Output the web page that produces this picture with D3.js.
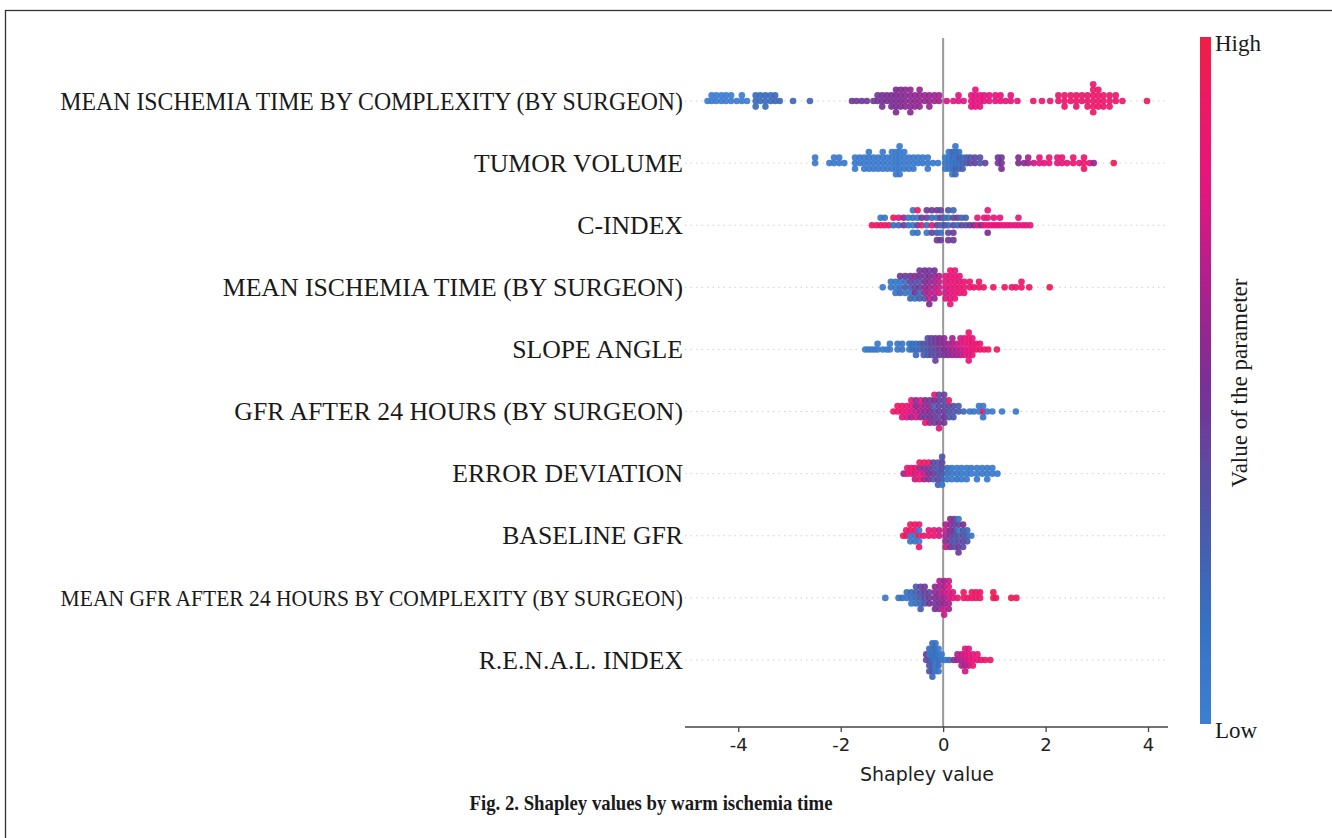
<!DOCTYPE html>
<html>
<head>
<meta charset="utf-8">
<script src="https://cdn.jsdelivr.net/npm/d3@7/dist/d3.min.js"></script>
<style>
  body { margin: 0; background: #fff; }
</style>
</head>
<body>
<svg id="chart" width="1332" height="838"></svg>
<script>
// feature names, top to bottom
const features = [
    "MEAN ISCHEMIA TIME BY COMPLEXITY (BY SURGEON)",
    "TUMOR VOLUME",
    "C-INDEX",
    "MEAN ISCHEMIA TIME (BY SURGEON)",
    "SLOPE ANGLE",
    "GFR AFTER 24 HOURS (BY SURGEON)",
    "ERROR DEVIATION",
    "BASELINE GFR",
    "MEAN GFR AFTER 24 HOURS BY COMPLEXITY (BY SURGEON)",
    "R.E.N.A.L. INDEX"
];

// each entry: [shapley value, [feature value (0 low .. 1 high) of every point at that value]]
const ischemiaByComplexity = [
    [-4.60, [0.02]], [-4.52, [0.02, 0.02]], [-4.43, [0.02, 0.02]], [-4.33, [0.02, 0.02]],
    [-4.24, [0.02, 0.02]], [-4.14, [0.02, 0.02]], [-4.03, [0.02]], [-3.93, [0.02, 0.02]], [-3.83, [0.02]],
    [-3.66, [0.18, 0.18, 0.18]], [-3.57, [0.18, 0.18]], [-3.47, [0.18, 0.18, 0.18]], [-3.37, [0.18, 0.18]],
    [-3.28, [0.2, 0.2]], [-3.19, [0.2]], [-2.93, [0.22]], [-2.60, [0.22]],
    [-1.78, [0.45]], [-1.69, [0.45]], [-1.59, [0.45]], [-1.49, [0.45]], [-1.36, [0.46]],
    [-1.28, [0.46, 0.46]], [-1.19, [0.48, 0.48, 0.48]], [-1.10, [0.5, 0.5]], [-1.01, [0.5, 0.5, 0.5]],
    [-0.92, [0.5, 0.5, 0.5, 0.5, 0.5]], [-0.83, [0.52, 0.52, 0.52, 0.52]], [-0.74, [0.54, 0.54, 0.54, 0.54]],
    [-0.64, [0.55, 0.55, 0.55, 0.55, 0.55]], [-0.55, [0.56, 0.56, 0.56]], [-0.46, [0.57, 0.57, 0.57, 0.57]],
    [-0.36, [0.58, 0.58]], [-0.27, [0.58, 0.58, 0.58]], [-0.17, [0.6, 0.6]], [-0.08, [0.62, 0.62]],
    [0.07, [0.74]], [0.20, [0.76]], [0.30, [0.76, 0.76]], [0.40, [0.76]],
    [0.55, [0.78, 0.78, 0.78]], [0.63, [0.78, 0.78, 0.78, 0.78]], [0.72, [0.78, 0.78, 0.78]],
    [0.80, [0.78, 0.78]], [0.90, [0.78, 0.78]], [1.02, [0.8, 0.8]], [1.12, [0.8, 0.8]], [1.22, [0.8]],
    [1.32, [0.8, 0.8]], [1.45, [0.8]], [1.76, [0.84]], [1.93, [0.84]], [2.09, [0.84]],
    [2.25, [0.87, 0.87]], [2.37, [0.87, 0.87, 0.87]], [2.49, [0.87, 0.87]], [2.60, [0.87, 0.87, 0.87]],
    [2.71, [0.88, 0.88]], [2.82, [0.88, 0.88, 0.88]], [2.93, [0.88, 0.88, 0.88, 0.88, 0.88, 0.88]],
    [3.03, [0.88, 0.88, 0.88, 0.88]], [3.13, [0.88, 0.88, 0.88]], [3.25, [0.88, 0.88, 0.88]],
    [3.37, [0.88, 0.88]], [3.50, [0.88]], [3.98, [0.95]]
];

const tumorVolume = [
    [-2.50, [0.05, 0.05]], [-2.22, [0.05]], [-2.13, [0.05, 0.05]], [-2.03, [0.05, 0.05]], [-1.93, [0.05]],
    [-1.72, [0.05, 0.05, 0.05]], [-1.63, [0.05, 0.05]], [-1.54, [0.05, 0.05, 0.05]],
    [-1.45, [0.05, 0.05, 0.05, 0.05]], [-1.36, [0.05, 0.05, 0.05]], [-1.27, [0.05, 0.05, 0.05]],
    [-1.18, [0.05, 0.05, 0.05, 0.05]], [-1.09, [0.05, 0.05, 0.05]], [-1.00, [0.05, 0.05, 0.05, 0.05]],
    [-0.92, [0.05, 0.05, 0.05, 0.05, 0.05]], [-0.85, [0.05, 0.05, 0.05, 0.05, 0.05, 0.05]],
    [-0.76, [0.05, 0.05, 0.05, 0.05]], [-0.67, [0.05, 0.05, 0.05]], [-0.58, [0.05, 0.05, 0.05]],
    [-0.49, [0.05, 0.05]], [-0.40, [0.05, 0.05]], [-0.30, [0.05, 0.05, 0.05]], [-0.20, [0.05]], [-0.10, [0.05]],
    [0.04, [0.08, 0.08, 0.08]], [0.11, [0.1, 0.08, 0.1, 0.08]], [0.18, [0.12, 0.15, 0.12, 0.2, 0.12]],
    [0.24, [0.15, 0.12, 0.25, 0.15, 0.2, 0.12]], [0.31, [0.15, 0.25, 0.2, 0.15]], [0.38, [0.25, 0.2, 0.25]],
    [0.46, [0.3, 0.25]], [0.53, [0.35, 0.3]], [0.62, [0.42, 0.38]], [0.72, [0.3, 0.35]], [0.82, [0.4]],
    [1.07, [0.45, 0.45]], [1.14, [0.48, 0.45, 0.5]],
    [1.47, [0.5, 0.52]], [1.58, [0.55]], [1.66, [0.6, 0.62]], [1.77, [0.7]],
    [1.88, [0.8, 0.82]], [1.97, [0.78]], [2.07, [0.82, 0.85]], [2.23, [0.75, 0.78]], [2.32, [0.86, 0.84]],
    [2.42, [0.8]], [2.54, [0.86, 0.84]], [2.66, [0.8]], [2.75, [0.9, 0.88, 0.9]], [2.86, [0.8]],
    [2.94, [0.55]], [3.33, [0.95]]
];

const cIndex = [
    [-1.39, [0.92]], [-1.30, [0.92]], [-1.22, [0.9, 0.1]], [-1.14, [0.9, 0.1]], [-1.06, [0.92]],
    [-0.97, [0.15, 0.92]], [-0.87, [0.2, 0.8]], [-0.77, [0.45, 0.6]], [-0.68, [0.15, 0.1]],
    [-0.59, [0.1, 0.15, 0.1, 0.1]], [-0.50, [0.4, 0.1, 0.15, 0.92]], [-0.42, [0.9, 0.45]],
    [-0.32, [0.15, 0.4, 0.1, 0.45]], [-0.22, [0.85, 0.2, 0.4, 0.45]], [-0.12, [0.45, 0.15, 0.3, 0.45, 0.45]],
    [-0.05, [0.2, 0.45, 0.15, 0.4, 0.45]], [0.03, [0.4, 0.2]], [0.10, [0.2, 0.15, 0.4, 0.3, 0.45]],
    [0.20, [0.4, 0.4, 0.45, 0.2, 0.45]], [0.28, [0.2, 0.4]], [0.36, [0.4, 0.2]], [0.44, [0.35, 0.25]],
    [0.52, [0.45]], [0.60, [0.5]], [0.67, [0.8, 0.8]], [0.74, [0.5]], [0.80, [0.8, 0.8]],
    [0.87, [0.8, 0.8, 0.5, 0.8]], [0.93, [0.8]], [0.99, [0.8, 0.8]], [1.05, [0.8]], [1.11, [0.8, 0.8]],
    [1.18, [0.8]], [1.25, [0.8]], [1.32, [0.8]], [1.40, [0.8]], [1.47, [0.8, 0.8]], [1.55, [0.8]],
    [1.62, [0.8]], [1.70, [0.8]]
];

const ischemiaBySurgeon = [
    [-1.18, [0.05]], [-1.02, [0.1, 0.1]], [-0.93, [0.05, 0.1, 0.1]], [-0.84, [0.15, 0.1, 0.2, 0.45]],
    [-0.74, [0.3, 0.15, 0.1, 0.45]], [-0.64, [0.25, 0.4, 0.1, 0.45, 0.2]],
    [-0.55, [0.4, 0.35, 0.5, 0.55, 0.15]], [-0.46, [0.45, 0.3, 0.2, 0.5, 0.25, 0.45]],
    [-0.36, [0.55, 0.5, 0.6, 0.45, 0.3, 0.5]], [-0.27, [0.6, 0.55, 0.65, 0.5, 0.7, 0.45, 0.5]],
    [-0.17, [0.65, 0.6, 0.7, 0.55, 0.55, 0.5]], [-0.08, [0.7, 0.7, 0.75, 0.65]],
    [0.05, [0.75, 0.8, 0.7, 0.8, 0.75]], [0.14, [0.8, 0.8, 0.8, 0.8, 0.8, 0.85, 0.8]],
    [0.23, [0.8, 0.85, 0.8, 0.8, 0.85, 0.8]], [0.32, [0.85, 0.8, 0.85, 0.8]], [0.41, [0.85, 0.85, 0.85]],
    [0.52, [0.85, 0.85]], [0.60, [0.85]], [0.70, [0.9, 0.9]], [0.79, [0.9]], [0.98, [0.9]],
    [1.20, [0.9]], [1.34, [0.9]], [1.42, [0.9]], [1.53, [0.9, 0.9]], [1.68, [0.9]], [2.08, [0.95]]
];

const slopeAngle = [
    [-1.52, [0.05]], [-1.46, [0.05]], [-1.40, [0.05]], [-1.34, [0.05]], [-1.28, [0.05, 0.05]],
    [-1.18, [0.05]], [-1.10, [0.05]], [-1.04, [0.05, 0.05]], [-0.89, [0.1, 0.1]], [-0.80, [0.1, 0.1]],
    [-0.66, [0.1, 0.15]], [-0.60, [0.15, 0.15]], [-0.53, [0.2, 0.15, 0.2]], [-0.45, [0.2, 0.25]],
    [-0.38, [0.25, 0.3, 0.25]], [-0.30, [0.3, 0.35, 0.3, 0.35]], [-0.23, [0.35, 0.4, 0.35, 0.4]],
    [-0.15, [0.4, 0.45, 0.35, 0.45, 0.4]], [-0.07, [0.45, 0.5, 0.45, 0.5]], [0.02, [0.5, 0.55, 0.45, 0.55]],
    [0.10, [0.55, 0.6, 0.5]], [0.18, [0.6, 0.65, 0.6, 0.6]], [0.26, [0.65, 0.7, 0.6]],
    [0.34, [0.7, 0.75, 0.65, 0.7]], [0.42, [0.75, 0.8, 0.75, 0.8]], [0.50, [0.8, 0.85, 0.75, 0.85, 0.8, 0.85]],
    [0.57, [0.85, 0.8, 0.85, 0.8]], [0.64, [0.85, 0.85]], [0.72, [0.85, 0.9]], [0.80, [0.9]],
    [0.88, [0.9]], [1.05, [0.95]]
];

const gfr24BySurgeon = [
    [-0.97, [0.9]], [-0.89, [0.85, 0.9]], [-0.80, [0.85, 0.9, 0.8]], [-0.71, [0.8, 0.85, 0.75]],
    [-0.62, [0.75, 0.8, 0.6, 0.8]], [-0.53, [0.7, 0.5, 0.75, 0.55]], [-0.44, [0.6, 0.65, 0.55, 0.8]],
    [-0.35, [0.55, 0.6, 0.45, 0.5, 0.9]], [-0.26, [0.5, 0.55, 0.5, 0.45, 0.6]],
    [-0.17, [0.4, 0.2, 0.45, 0.5, 0.4, 0.8]], [-0.08, [0.45, 0.4, 0.35, 0.45, 0.5, 0.4, 0.75]],
    [0.02, [0.4, 0.35, 0.5, 0.3, 0.45, 0.4]], [0.11, [0.35, 0.4, 0.3, 0.9]], [0.20, [0.3, 0.35, 0.3]],
    [0.30, [0.3, 0.25]], [0.40, [0.2]], [0.52, [0.1]], [0.60, [0.1]], [0.70, [0.05, 0.05]],
    [0.78, [0.9, 0.05, 0.1]], [0.86, [0.05]], [0.96, [0.05]], [1.15, [0.05]], [1.42, [0.05]]
];

const errorDeviation = [
    [-0.77, [0.55]], [-0.70, [0.8, 0.85]], [-0.62, [0.85, 0.9]], [-0.55, [0.75, 0.85, 0.7]],
    [-0.46, [0.8, 0.6, 0.9, 0.95]], [-0.37, [0.7, 0.55, 0.6, 0.9]], [-0.28, [0.5, 0.45, 0.55, 0.9]],
    [-0.19, [0.45, 0.35, 0.3, 0.4]], [-0.10, [0.35, 0.3, 0.4, 0.3, 0.25]],
    [-0.02, [0.3, 0.35, 0.25, 0.4, 0.1, 0.3]], [0.08, [0.15, 0.2, 0.1]], [0.17, [0.1, 0.1, 0.05]],
    [0.27, [0.1, 0.05, 0.1]], [0.36, [0.05, 0.05, 0.05]], [0.46, [0.05, 0.05, 0.05]], [0.55, [0.05, 0.05]],
    [0.66, [0.05, 0.05, 0.05]], [0.76, [0.05, 0.05]], [0.86, [0.05, 0.05, 0.05]], [0.96, [0.05, 0.05]],
    [1.06, [0.05]]
];

const baselineGfr = [
    [-0.78, [0.95]], [-0.72, [0.9, 0.9]], [-0.64, [0.1, 0.9, 0.1, 0.9]], [-0.55, [0.1, 0.85, 0.1, 0.9]],
    [-0.47, [0.9, 0.1, 0.05, 0.9, 0.85]], [-0.38, [0.85]], [-0.28, [0.9, 0.8]], [-0.18, [0.8, 0.85]],
    [-0.08, [0.75, 0.7]], [0.05, [0.6, 0.7, 0.55, 0.65, 0.7]], [0.14, [0.45, 0.5, 0.4, 0.6, 0.5, 0.55]],
    [0.22, [0.35, 0.45, 0.3, 0.4, 0.35, 0.45]], [0.30, [0.3, 0.1, 0.35, 0.4, 0.45, 0.1, 0.45]],
    [0.39, [0.35, 0.3, 0.4, 0.5, 0.35]], [0.47, [0.25, 0.2, 0.3]], [0.55, [0.1]]
];

const gfr24ByComplexity = [
    [-1.13, [0.05]], [-0.87, [0.1]], [-0.80, [0.15]], [-0.71, [0.1, 0.15]], [-0.62, [0.15, 0.2, 0.1]],
    [-0.53, [0.2, 0.25, 0.15, 0.3]], [-0.44, [0.3, 0.35, 0.2, 0.4, 0.25]], [-0.36, [0.35, 0.4, 0.3, 0.45]],
    [-0.27, [0.45, 0.4, 0.5]], [-0.16, [0.5, 0.55, 0.45, 0.55, 0.5]],
    [-0.07, [0.55, 0.6, 0.5, 0.6, 0.55, 0.65]], [0.02, [0.6, 0.7, 0.55, 0.65, 0.75, 0.6, 0.7]],
    [0.11, [0.7, 0.75, 0.65, 0.8, 0.6, 0.7]], [0.19, [0.8, 0.75]], [0.28, [0.85]], [0.40, [0.9, 0.9]],
    [0.48, [0.9]], [0.56, [0.9, 0.9]], [0.64, [0.9, 0.9]], [0.72, [0.9, 0.9]], [0.98, [0.95, 0.95]],
    [1.03, [0.95]], [1.33, [0.95]], [1.43, [0.95]]
];

const renalIndex = [
    [-0.33, [0.4, 0.45]], [-0.27, [0.3, 0.1, 0.35, 0.2, 0.3]], [-0.21, [0.2, 0.15, 0.25, 0.1, 0.3, 0.15, 0.2]],
    [-0.15, [0.1, 0.15, 0.05, 0.2, 0.1, 0.15]], [-0.09, [0.15, 0.1, 0.2, 0.05, 0.1]], [-0.03, [0.1, 0.05]],
    [0.05, [0.1]], [0.12, [0.15]], [0.21, [0.55]], [0.28, [0.6, 0.65]], [0.36, [0.65, 0.7, 0.6]],
    [0.43, [0.7, 0.75, 0.65, 0.8, 0.7]], [0.50, [0.75, 0.8, 0.7, 0.75]], [0.58, [0.8, 0.8, 0.85]],
    [0.67, [0.85, 0.85]], [0.74, [0.85]], [0.82, [0.9]], [0.92, [0.9]]
];

const rows = [ischemiaByComplexity, tumorVolume, cIndex, ischemiaBySurgeon, slopeAngle,
              gfr24BySurgeon, errorDeviation, baselineGfr, gfr24ByComplexity, renalIndex];

const xTicks = [-4, -2, 0, 2, 4];

const svg = d3.select("#chart");

// outer frame of the figure
svg.append("rect").attr("x", 5.5).attr("y", 10.5).attr("width", 1340).attr("height", 860)
    .attr("fill", "none").attr("stroke", "#333").attr("stroke-width", 1.3);

const x = d3.scaleLinear().domain([-5.04, 4.39]).range([685, 1168]);
const y = d3.scalePoint().domain(features).range([101, 660]);

const color = d3.scaleLinear()
    .domain([0, 0.15, 0.3, 0.5, 0.65, 0.78, 0.9, 1])
    .range(["#3d7fd2", "#3671c0", "#4c58a9", "#7b2f93", "#b0208c", "#e5157f", "#ec1866", "#ee1f45"])
    .interpolate(d3.interpolateRgb);

// dotted guide per row
svg.append("g").selectAll("line").data(features).enter().append("line")
    .attr("x1", 685).attr("x2", 1168)
    .attr("y1", d => y(d)).attr("y2", d => y(d))
    .attr("stroke", "#cfcfcf").attr("stroke-width", 1).attr("stroke-dasharray", "1.5,4");

// zero line
svg.append("line").attr("x1", x(0)).attr("x2", x(0)).attr("y1", 38).attr("y2", 727)
    .attr("stroke", "#9a9a9a").attr("stroke-width", 2);

// beeswarm layout: points sharing a value are stacked 0, +1, -1, +2, -2 ...
const points = [];
rows.forEach((cols, i) => {
    const maxLayer = d3.max(cols, c => Math.ceil((c[1].length - 1) / 2));
    const gap = 0.9 * 0.4 * y.step() / (maxLayer + 1);
    cols.forEach(([v, feats]) => {
        feats.forEach((f, k) => {
            const layer = Math.ceil(k / 2) * (k % 2 ? 1 : -1);
            points.push({ v: v, f: f, cy: y(features[i]) - layer * gap });
        });
    });
});

svg.append("g").selectAll("circle").data(points).enter().append("circle")
    .attr("cx", d => x(d.v))
    .attr("cy", d => d.cy)
    .attr("r", 3.3)
    .attr("fill", d => color(d.f))
    .attr("fill-opacity", 0.92);

// feature labels (serif, condensed like the print); long ones squeezed, the longest also set smaller
const labels = svg.append("g").selectAll("text").data(features).enter().append("text")
    .attr("font-family", "Liberation Serif, Times New Roman, serif")
    .attr("font-size", 26)
    .attr("fill", "#1a1a1a")
    .attr("text-anchor", "end")
    .text(d => d);
const squeeze = 209 / labels.nodes()[1].getComputedTextLength();
labels.each(function(d) {
    const t = d3.select(this);
    let fs = 26;
    let sx = squeeze;
    const w = this.getComputedTextLength() * squeeze;
    if (w > 623) {
        const extra = Math.max(0.92, 623 / w);
        sx = squeeze * extra;
        fs = 26 * Math.min(1, 623 / (w * extra));
        t.attr("font-size", fs);
    }
    t.attr("transform", `translate(683,${y(d) + fs * 0.33}) scale(${sx},1)`);
});

// x axis
const axis = svg.append("g").attr("transform", "translate(0,727)")
    .call(d3.axisBottom(x).tickValues(xTicks).tickSize(5).tickPadding(6).tickFormat(d => d));
axis.select(".domain").attr("stroke", "#444").attr("stroke-width", 1.3).attr("d", "M685,0H1168");
axis.selectAll(".tick line").attr("stroke", "#444").attr("stroke-width", 1.3);
axis.selectAll(".tick text").attr("font-family", "DejaVu Sans, sans-serif").attr("font-size", 18).attr("fill", "#222");

svg.append("text").attr("x", 927).attr("y", 781)
    .attr("text-anchor", "middle").attr("font-family", "DejaVu Sans, sans-serif")
    .attr("font-size", 19).attr("fill", "#222").text("Shapley value");

// colour bar
const defs = svg.append("defs");
const grad = defs.append("linearGradient").attr("id", "cbar").attr("x1", 0).attr("y1", 1).attr("x2", 0).attr("y2", 0);
d3.range(0, 1.0001, 0.05).forEach(t => {
    grad.append("stop").attr("offset", t).attr("stop-color", color(t));
});
svg.append("rect").attr("x", 1200).attr("y", 37).attr("width", 11).attr("height", 687)
    .attr("fill", "url(#cbar)");

const serif = "Liberation Serif, Times New Roman, serif";
svg.append("text").attr("x", 1215).attr("y", 51).attr("font-family", serif).attr("font-size", 23)
    .attr("fill", "#1a1a1a").text("High");
svg.append("text").attr("x", 1215).attr("y", 738).attr("font-family", serif).attr("font-size", 23)
    .attr("fill", "#1a1a1a").text("Low");
svg.append("text").attr("transform", "translate(1247,383) rotate(-90)")
    .attr("text-anchor", "middle").attr("font-family", serif).attr("font-size", 23)
    .attr("fill", "#1a1a1a").text("Value of the parameter");

// caption
svg.append("text").attr("x", 651).attr("y", 810).attr("text-anchor", "middle")
    .attr("font-family", serif).attr("font-weight", "bold").attr("font-size", 22)
    .attr("fill", "#1a1a1a").attr("textLength", 363).attr("lengthAdjust", "spacingAndGlyphs")
    .text("Fig. 2. Shapley values by warm ischemia time");
</script>
</body>
</html>
